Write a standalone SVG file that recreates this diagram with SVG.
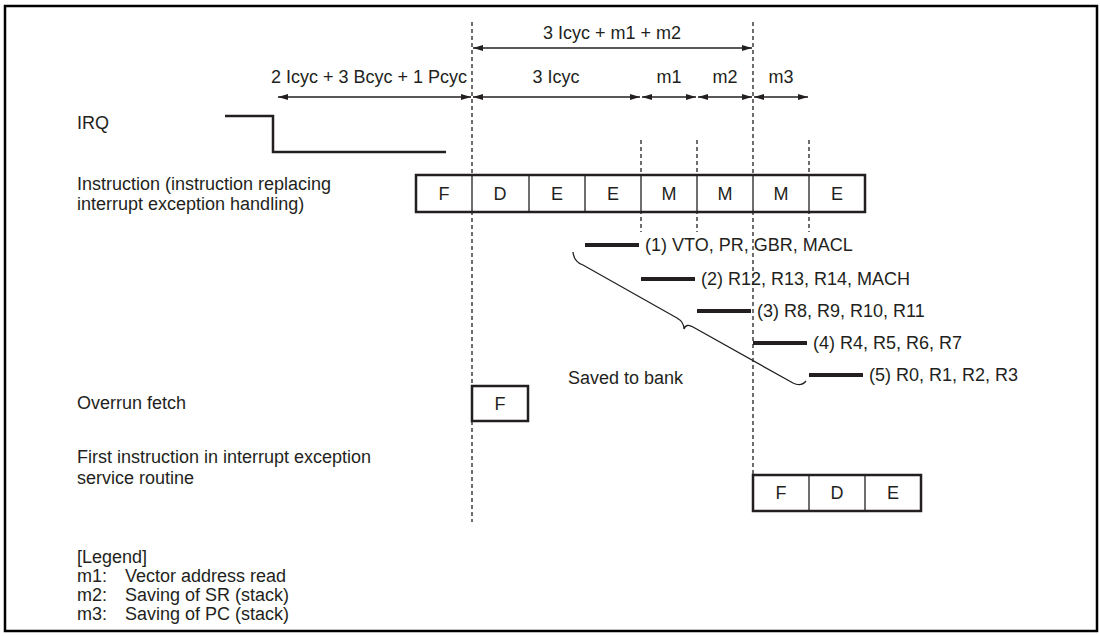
<svg xmlns="http://www.w3.org/2000/svg" width="1100" height="637" viewBox="0 0 1100 637">
<defs>
<marker id="ah" viewBox="0 0 10 10" refX="10" refY="5" markerWidth="10" markerHeight="10" markerUnits="userSpaceOnUse" orient="auto-start-reverse">
<path d="M0,2 L10,5 L0,8 z" fill="#231f20"/>
</marker>
<style>
text{font-family:"Liberation Sans",Arial,sans-serif;font-size:18px;fill:#231f20}
.mid{text-anchor:middle}
.end{text-anchor:end}
.dash{stroke:#231f20;stroke-width:1.3;stroke-dasharray:4,3;fill:none}
.dim{stroke:#231f20;stroke-width:1.3;fill:none;marker-start:url(#ah);marker-end:url(#ah)}
.box{fill:#fff;stroke:#231f20;stroke-width:2.5}
.cell{stroke:#231f20;stroke-width:1.3}
.bar{stroke:#231f20;stroke-width:4}
.wave{stroke:#231f20;stroke-width:2.5;fill:none}
</style>
</defs>
<rect x="5" y="6" width="1092" height="625" fill="#fff" stroke="#000" stroke-width="2.5"/>

<g id="connectors">
<line class="dash" x1="472" y1="22" x2="472" y2="522"/>
<line class="dash" x1="753" y1="22" x2="753" y2="475"/>
<line class="dash" x1="641" y1="140" x2="641" y2="232"/>
<line class="dash" x1="697" y1="140" x2="697" y2="232"/>
<line class="dash" x1="809" y1="140" x2="809" y2="232"/>
<line class="dim" x1="473" y1="48" x2="752" y2="48"/>
<line class="dim" x1="278" y1="97" x2="471" y2="97"/>
<line class="dim" x1="473" y1="97" x2="640" y2="97"/>
<line class="dim" x1="642" y1="97" x2="696" y2="97"/>
<line class="dim" x1="698" y1="97" x2="752" y2="97"/>
<line class="dim" x1="754" y1="97" x2="808" y2="97"/>
<path d="M573,252 Q574,262 583,265 L677,318 Q684,322 684,329 Q686,323 693,327 L793,383 Q801,387 806,381" fill="none" stroke="#231f20" stroke-width="1.3"/>
</g>

<g id="dims-text">
<text class="mid" x="612" y="39">3 Icyc + m1 + m2</text>
<text class="end" x="467" y="83">2 Icyc + 3 Bcyc + 1 Pcyc</text>
<text class="mid" x="556" y="83">3 Icyc</text>
<text class="mid" x="669" y="83">m1</text>
<text class="mid" x="725" y="83">m2</text>
<text class="mid" x="781" y="83">m3</text>
</g>

<g id="irq">
<text x="77" y="129">IRQ</text>
<polyline class="wave" points="225,116 273,116 273,152 446,152"/>
</g>

<g id="instruction">
<text x="77" y="190">Instruction (instruction replacing</text>
<text x="77" y="210">interrupt exception handling)</text>
<rect class="box" x="416" y="175" width="449" height="37"/>
<line class="cell" x1="472" y1="175" x2="472" y2="212"/>
<line class="cell" x1="529" y1="175" x2="529" y2="212"/>
<line class="cell" x1="585" y1="175" x2="585" y2="212"/>
<line class="cell" x1="641" y1="175" x2="641" y2="212"/>
<line class="cell" x1="697" y1="175" x2="697" y2="212"/>
<line class="cell" x1="753" y1="175" x2="753" y2="212"/>
<line class="cell" x1="809" y1="175" x2="809" y2="212"/>
<text class="mid" x="444" y="200">F</text>
<text class="mid" x="500" y="200">D</text>
<text class="mid" x="557" y="200">E</text>
<text class="mid" x="613" y="200">E</text>
<text class="mid" x="669" y="200">M</text>
<text class="mid" x="725" y="200">M</text>
<text class="mid" x="781" y="200">M</text>
<text class="mid" x="837" y="200">E</text>
</g>

<g id="bank">
<line class="bar" x1="585" y1="245" x2="639" y2="245"/>
<text x="645" y="251">(1) VTO, PR, GBR, MACL</text>
<line class="bar" x1="641" y1="279" x2="695" y2="279"/>
<text x="701" y="285">(2) R12, R13, R14, MACH</text>
<line class="bar" x1="697" y1="311" x2="751" y2="311"/>
<text x="757" y="317">(3) R8, R9, R10, R11</text>
<line class="bar" x1="753" y1="343" x2="807" y2="343"/>
<text x="813" y="349">(4) R4, R5, R6, R7</text>
<line class="bar" x1="809" y1="375" x2="863" y2="375"/>
<text x="869" y="381">(5) R0, R1, R2, R3</text>
<text x="568" y="384">Saved to bank</text>
</g>

<g id="overrun">
<text x="77" y="409">Overrun fetch</text>
<rect class="box" x="472" y="386" width="56" height="35"/>
<text class="mid" x="500" y="410">F</text>
</g>

<g id="first">
<text x="77" y="463">First instruction in interrupt exception</text>
<text x="77" y="484">service routine</text>
<rect class="box" x="753" y="475" width="168" height="36"/>
<line class="cell" x1="809" y1="475" x2="809" y2="511"/>
<line class="cell" x1="865" y1="475" x2="865" y2="511"/>
<text class="mid" x="781" y="499">F</text>
<text class="mid" x="837" y="499">D</text>
<text class="mid" x="893" y="499">E</text>
</g>

<g id="legend">
<text x="77" y="563">[Legend]</text>
<text x="77" y="582">m1:</text>
<text x="125" y="582">Vector address read</text>
<text x="77" y="601">m2:</text>
<text x="125" y="601">Saving of SR (stack)</text>
<text x="77" y="620">m3:</text>
<text x="125" y="620">Saving of PC (stack)</text>
</g>
</svg>
